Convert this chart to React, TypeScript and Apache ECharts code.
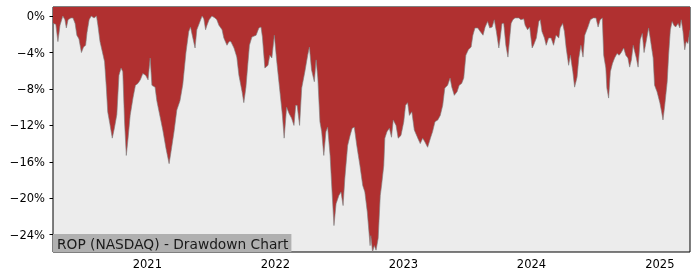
import React, { useEffect, useRef } from "react";
import * as echarts from "echarts";

const dates: string[] = [
  "2020-04-07","2020-04-15","2020-04-21","2020-04-27","2020-05-05","2020-05-11","2020-05-15","2020-05-20","2020-05-28","2020-06-03",
  "2020-06-09","2020-06-14","2020-06-20","2020-06-27","2020-07-03","2020-07-09","2020-07-13","2020-07-19","2020-07-25","2020-08-02",
  "2020-08-09","2020-08-13","2020-08-19","2020-08-25","2020-09-01","2020-09-06","2020-09-10","2020-09-16","2020-09-23","2020-09-29",
  "2020-10-06","2020-10-12","2020-10-18","2020-10-23","2020-10-28","2020-11-02","2020-11-07","2020-11-13","2020-11-21","2020-11-28",
  "2020-12-05","2020-12-12","2020-12-19","2020-12-27","2021-01-03","2021-01-09","2021-01-14","2021-01-23","2021-01-28","2021-02-06",
  "2021-02-14","2021-02-23","2021-03-04","2021-03-09","2021-03-18","2021-03-26","2021-04-04","2021-04-12","2021-04-21","2021-04-29",
  "2021-05-04","2021-05-09","2021-05-17","2021-05-22","2021-05-31","2021-06-06","2021-06-11","2021-06-16","2021-06-20","2021-06-26",
  "2021-07-04","2021-07-13","2021-07-18","2021-07-24","2021-08-02","2021-08-07","2021-08-16","2021-08-22","2021-08-27","2021-09-05",
  "2021-09-13","2021-09-19","2021-09-28","2021-10-03","2021-10-09","2021-10-15","2021-10-19","2021-10-26","2021-11-07","2021-11-15",
  "2021-11-21","2021-11-25","2021-12-02","2021-12-11","2021-12-16","2021-12-22","2021-12-29","2022-01-05","2022-01-14","2022-01-21",
  "2022-01-26","2022-02-02","2022-02-09","2022-02-16","2022-02-23","2022-02-28","2022-03-04","2022-03-11","2022-03-17","2022-03-26",
  "2022-04-03","2022-04-08","2022-04-14","2022-04-22","2022-04-27","2022-05-02","2022-05-08","2022-05-13","2022-05-19","2022-05-25",
  "2022-05-30","2022-06-06","2022-06-10","2022-06-17","2022-06-23","2022-07-01","2022-07-07","2022-07-13","2022-07-18","2022-07-26",
  "2022-08-02","2022-08-08","2022-08-14","2022-08-21","2022-08-30","2022-09-07","2022-09-13","2022-09-20","2022-09-28","2022-09-30",
  "2022-10-05","2022-10-10","2022-10-15","2022-10-21","2022-10-27","2022-10-31","2022-11-06","2022-11-09","2022-11-15","2022-11-22",
  "2022-11-28","2022-12-03","2022-12-11","2022-12-17","2022-12-25","2023-01-02","2023-01-07","2023-01-13","2023-01-18","2023-01-25",
  "2023-02-01","2023-02-11","2023-02-18","2023-02-25","2023-03-03","2023-03-11","2023-03-19","2023-03-25","2023-04-01","2023-04-09",
  "2023-04-16","2023-04-23","2023-04-29","2023-05-07","2023-05-14","2023-05-19","2023-05-26","2023-06-03","2023-06-09","2023-06-16",
  "2023-06-22","2023-06-28","2023-07-05","2023-07-13","2023-07-18","2023-07-24","2023-08-01","2023-08-08","2023-08-16","2023-08-22",
  "2023-08-29","2023-09-04","2023-09-11","2023-09-17","2023-09-23","2023-09-30","2023-10-04","2023-10-09","2023-10-14","2023-10-20",
  "2023-10-26","2023-10-31","2023-11-04","2023-11-09","2023-11-15","2023-11-26","2023-12-02","2023-12-10","2023-12-14","2023-12-21",
  "2023-12-27","2024-01-03","2024-01-07","2024-01-15","2024-01-22","2024-01-26","2024-01-31","2024-02-07","2024-02-12","2024-02-19",
  "2024-02-26","2024-03-04","2024-03-11","2024-03-19","2024-03-23","2024-03-30","2024-04-04","2024-04-09","2024-04-16","2024-04-21",
  "2024-04-28","2024-05-03","2024-05-10","2024-05-15","2024-05-21","2024-05-27","2024-06-01","2024-06-10","2024-06-17","2024-06-25",
  "2024-07-03","2024-07-09","2024-07-15","2024-07-21","2024-07-25","2024-07-31","2024-08-03","2024-08-08","2024-08-13","2024-08-19",
  "2024-08-25","2024-09-01","2024-09-07","2024-09-13","2024-09-20","2024-09-26","2024-10-02","2024-10-07","2024-10-12","2024-10-17",
  "2024-10-22","2024-10-26","2024-10-31","2024-11-06","2024-11-12","2024-11-17","2024-11-23","2024-11-30","2024-12-06","2024-12-13",
  "2024-12-17","2024-12-24","2025-01-01","2025-01-06","2025-01-10","2025-01-15","2025-01-22","2025-01-26","2025-01-31","2025-02-05",
  "2025-02-10","2025-02-15","2025-02-22","2025-02-27","2025-03-03","2025-03-08","2025-03-13","2025-03-17","2025-03-22","2025-03-28",
];

const drawdown: number[] = [
  -0.8,-0.9,-2.8,-1.0,0,-0.4,-1.3,-0.4,-0.2,-0.2,
  -0.8,-2.1,-2.5,-4.0,-3.4,-3.2,-1.8,-0.4,0,-0.2,
  0,-1.0,-2.8,-3.8,-5.0,-7.8,-10.5,-11.8,-13.4,-12.3,
  -10.8,-6.5,-5.7,-6.1,-11.6,-15.3,-13.4,-10.9,-9.0,-7.6,
  -7.4,-7.0,-6.3,-6.5,-7.0,-4.6,-7.6,-7.8,-9.3,-11.0,
  -12.5,-14.5,-16.2,-15.0,-12.7,-10.3,-9.3,-7.5,-4.0,-1.7,
  -1.2,-2.1,-3.5,-1.5,-0.6,0,-0.3,-1.5,-1.0,-0.4,
  0,-0.2,-0.4,-1.0,-1.5,-2.4,-3.2,-2.8,-2.8,-3.5,
  -4.5,-6.5,-8.3,-9.5,-7.8,-5.0,-3.2,-2.3,-2.1,-1.3,
  -1.2,-2.3,-5.7,-5.4,-4.3,-4.6,-2.1,-5.0,-8.3,-10.9,
  -13.4,-10.0,-10.7,-11.2,-12.0,-9.8,-9.8,-12.0,-7.9,-6.1,
  -4.3,-3.4,-5.9,-7.2,-4.8,-6.8,-11.6,-12.7,-15.3,-12.7,
  -12.2,-15.3,-18.2,-23.0,-20.6,-19.7,-19.3,-20.8,-17.8,-14.2,
  -13.1,-12.3,-12.2,-14.2,-16.4,-18.6,-19.3,-21.5,-25.2,-24.1,
  -25.9,-25.2,-25.7,-24.4,-19.7,-18.5,-16.4,-13.4,-12.7,-12.3,
  -13.3,-11.4,-12.0,-13.4,-13.1,-11.6,-9.8,-9.5,-10.9,-10.5,
  -12.5,-13.4,-14.0,-13.4,-13.8,-14.4,-13.4,-12.7,-11.6,-11.4,
  -10.9,-9.8,-7.9,-7.6,-6.8,-7.8,-8.7,-8.3,-7.6,-7.4,
  -6.8,-4.3,-3.7,-3.4,-2.1,-1.3,-1.3,-1.7,-2.1,-1.2,
  -0.6,-1.3,-1.2,-0.4,-1.7,-3.5,-2.4,-0.8,-0.8,-3.2,
  -4.5,-2.4,-0.8,-0.4,-0.2,-0.2,-0.4,-0.3,-1.0,-1.5,
  -1.2,-3.5,-3.2,-2.4,-0.6,-0.4,-1.7,-2.4,-3.2,-2.4,
  -2.4,-3.2,-2.1,-2.4,-1.3,-0.8,-1.7,-3.5,-5.4,-4.3,
  -6.1,-7.8,-6.7,-4.6,-3.2,-4.5,-2.1,-1.2,-0.4,-0.2,
  -0.2,-1.2,-0.4,-0.2,-4.3,-5.7,-7.9,-9.0,-6.1,-5.2,
  -4.6,-4.1,-4.3,-4.0,-3.5,-4.3,-4.6,-5.6,-4.8,-3.2,
  -4.0,-4.6,-5.6,-2.6,-1.9,-4.0,-2.8,-1.3,-2.8,-4.6,
  -7.6,-8.3,-9.5,-10.5,-11.4,-9.8,-7.2,-4.3,-1.5,-0.6,
  -1.0,-1.2,-0.8,-1.3,-0.4,-1.7,-3.7,-2.8,-3.0,-1.5,
];

const yTicks: number[] = [0, -4, -8, -12, -16, -20, -24];
const xTickDates: string[] = ["2021-01-01", "2022-01-01", "2023-01-01", "2024-01-01", "2025-01-01"];
const xRange: string[] = ["2020-04-07", "2025-03-28"];
const yRange: number[] = [-25.9, 1.0];
const titleText = "ROP (NASDAQ) - Drawdown Chart";

const FONT = '"DejaVu Sans", sans-serif';

const toTime = (d: string) => new Date(d + "T00:00:00Z").getTime();

export default function App() {
  const ref = useRef<HTMLDivElement>(null);

  useEffect(() => {
    if (!ref.current) return;
    const chart = echarts.init(ref.current, undefined, { renderer: "svg" });
    const xTickValues = xTickDates.map(toTime);
    const seriesData = dates.map((d, i) => [toTime(d), drawdown[i]]);

    chart.setOption({
      animation: false,
      grid: {
        left: 53,
        top: 7,
        right: 10,
        bottom: 28,
        show: true,
        backgroundColor: "#ececec",
        borderColor: "#000",
        borderWidth: 1,
        containLabel: false,
      },
      xAxis: {
        type: "value",
        min: toTime(xRange[0]),
        max: toTime(xRange[1]),
        axisLine: { show: false },
        splitLine: { show: false },
        axisTick: {
          show: true,
          length: 3.5,
          lineStyle: { color: "#000", width: 1 },
          customValues: xTickValues,
        },
        axisLabel: {
          customValues: xTickValues,
          formatter: (v: number) => String(new Date(v).getUTCFullYear()),
          fontFamily: FONT,
          fontSize: 11.5,
          color: "#000",
          margin: 6,
        },
      },
      yAxis: {
        type: "value",
        min: yRange[0],
        max: yRange[1],
        axisLine: { show: false },
        splitLine: { show: false },
        axisTick: {
          show: true,
          length: 3.5,
          lineStyle: { color: "#000", width: 1 },
          customValues: yTicks,
        },
        axisLabel: {
          customValues: yTicks,
          formatter: (v: number) =>
            v === 0 ? "0%" : (v < 0 ? "\u2212" : "") + Math.abs(v) + "%",
          fontFamily: FONT,
          fontSize: 11.5,
          color: "#000",
          margin: 8,
        },
      },
      series: [
        {
          type: "line",
          data: seriesData,
          showSymbol: false,
          symbol: "none",
          lineStyle: { color: "rgba(128,128,128,0.8)", width: 0.8 },
          areaStyle: { color: "#b03030", opacity: 1, origin: "end" },
          z: 2,
        },
      ],
      graphic: [
        {
          type: "text",
          left: 53,
          bottom: 28,
          z: 100,
          style: {
            text: titleText,
            font: `13.75px ${FONT}`,
            fill: "#1a1a1a",
            backgroundColor: "#b0b0b0",
            padding: [3, 3, 1, 4],
          },
        },
      ],
    });

    return () => chart.dispose();
  }, []);

  return (
    <div
      ref={ref}
      style={{ position: "fixed", left: 0, top: 0, width: 700, height: 280 }}
    />
  );
}
